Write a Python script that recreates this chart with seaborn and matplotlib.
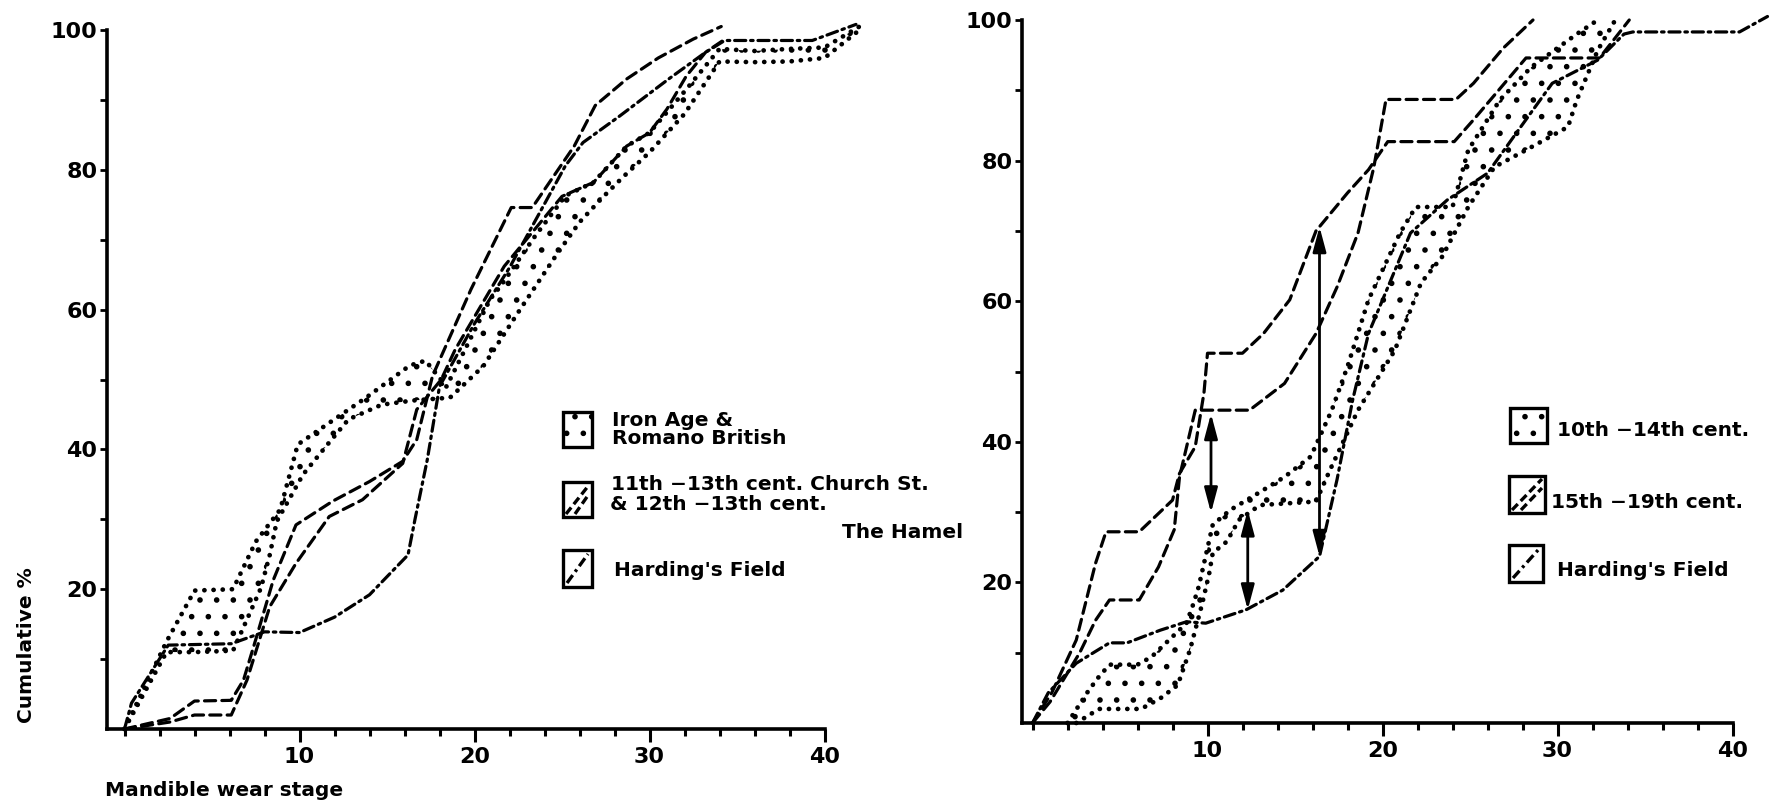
import numpy as np
import matplotlib
matplotlib.use("Agg")
import matplotlib.pyplot as plt
import seaborn as sns
from matplotlib.patches import Rectangle
from matplotlib.lines import Line2D
from matplotlib.ticker import FixedLocator

# ---------------- DATA ----------------
# Left panel: Iron Age & Romano British (dotted band)
L_iron_up_x = [0, 2.4, 4.0, 6.2, 7.5, 8.9, 9.9, 11.7, 13.8, 16.3, 17.2, 18.4, 20.9, 21.5, 23.4, 25.2, 26.8, 28.7, 30.0, 32.1, 34.0, 36.0, 38.0, 40.0, 42.0]
L_iron_up_y = [0, 12.5, 19.8, 20.0, 26.8, 31.4, 40.7, 43.8, 47.4, 52.0, 52.7, 49.0, 61.5, 63.4, 70.3, 76.3, 78.2, 83.4, 85.3, 91.5, 97.3, 97.0, 97.3, 97.5, 100.5]
L_iron_lo_x = [0, 2.4, 4.0, 6.2, 7.2, 7.8, 8.3, 8.7, 10.2, 11.6, 12.8, 14.7, 16.5, 18.6, 20.5, 22.6, 24.7, 26.0, 27.3, 28.5, 30.0, 32.0, 34.0, 36.0, 38.0, 40.0, 42.0]
L_iron_lo_y = [0, 11.0, 11.0, 11.2, 16.8, 20.2, 24.9, 29.7, 36.4, 40.7, 44.3, 46.4, 47.0, 47.4, 51.9, 60.0, 67.9, 72.5, 76.0, 79.0, 82.5, 88.0, 95.5, 95.4, 95.5, 96.0, 100.0]
# Left panel: 11th-13th cent. Church St. & 12th-13th cent. The Hamel (dashed pair)
L_med1_x = [0, 2.6, 4.0, 6.1, 6.8, 7.5, 8.5, 9.8, 11.9, 14.0, 15.9, 16.7, 17.6, 19.8, 22.1, 23.3, 25.7, 26.9, 28.7, 30.5, 32.5, 34.1]
L_med1_y = [0, 1.5, 4.0, 4.1, 7.0, 12.8, 21.3, 29.2, 32.6, 35.4, 38.3, 41.4, 50.5, 62.9, 74.6, 74.6, 83.4, 89.2, 93.0, 96.0, 98.7, 100.5]
L_med2_x = [0, 2.6, 4.0, 6.1, 7.0, 8.3, 9.8, 11.7, 13.6, 15.9, 16.7, 18.1, 18.9, 21.7, 25.0, 26.8, 28.7, 30.0, 31.0, 32.1, 33.2, 34.2]
L_med2_y = [0, 1.0, 2.0, 2.0, 7.0, 17.5, 23.7, 30.4, 32.8, 38.0, 45.7, 50.0, 54.3, 66.2, 76.2, 78.2, 83.4, 85.3, 88.7, 93.4, 96.8, 98.5]
# Left panel: Harding's Field (dash-dot)
L_hard_x = [0, 0.4, 2.5, 6.1, 8.0, 10.0, 12.0, 14.0, 16.2, 16.6, 17.3, 18.0, 20.0, 22.0, 25.2, 26.2, 28.3, 31.1, 33.2, 34.3, 39.3, 41.8]
L_hard_y = [0, 3.7, 12.0, 12.2, 13.9, 13.8, 16.0, 19.2, 24.9, 30.0, 38.5, 49.0, 58.0, 66.0, 80.6, 83.9, 87.7, 93.0, 96.8, 98.5, 98.5, 100.8]

# Right panel: 10th-14th cent. (dotted band)
R_early_up_x = [2.0, 3.2, 3.8, 4.4, 6.0, 6.8, 7.8, 8.8, 9.2, 9.5, 10.3, 11.3, 12.9, 14.4, 15.9, 17.1, 18.0, 19.2, 21.0, 21.9, 24.0, 24.9, 26.7, 28.5, 31.1, 32.3]
R_early_up_y = [0, 4.6, 6.6, 8.3, 8.3, 9.4, 11.8, 14.2, 17.0, 19.4, 28.2, 30.3, 32.7, 35.0, 37.9, 44.5, 50.7, 60.2, 69.7, 73.4, 73.4, 81.5, 88.6, 93.3, 98.0, 100]
R_early_lo_x = [2.5, 3.8, 6.2, 7.3, 8.3, 9.0, 9.7, 10.1, 10.3, 11.1, 11.8, 13.0, 16.2, 17.0, 18.6, 20.7, 22.2, 23.4, 24.9, 26.4, 28.2, 30.6, 31.1, 32.3, 33.3]
R_early_lo_y = [0, 2.0, 2.0, 3.5, 5.4, 10.4, 17.0, 21.3, 24.2, 25.8, 28.9, 31.0, 31.5, 36.0, 44.5, 53.0, 62.6, 66.3, 73.4, 79.1, 81.5, 84.8, 88.6, 95.7, 100]
# Right panel: 15th-19th cent. (dashed pair)
R_late1_x = [0, 1.1, 2.5, 3.6, 4.2, 6.1, 8.0, 8.4, 9.3, 9.8, 10.0, 12.0, 13.2, 14.7, 16.2, 18.0, 19.2, 20.3, 24.1, 25.2, 28.2, 32.4, 34.1]
R_late1_y = [0, 4.3, 11.8, 22.7, 27.2, 27.2, 31.7, 35.5, 39.3, 47.0, 52.6, 52.6, 55.4, 60.2, 70.0, 75.4, 78.7, 82.7, 82.7, 85.8, 94.6, 94.6, 100]
R_late2_x = [0, 1.0, 2.7, 3.6, 4.4, 6.1, 7.2, 8.1, 8.4, 9.3, 12.4, 14.4, 16.2, 17.4, 18.6, 19.5, 20.2, 24.2, 25.2, 26.9, 28.6]
R_late2_y = [0, 3.0, 10.0, 14.6, 17.5, 17.5, 22.2, 27.5, 35.0, 44.5, 44.5, 48.3, 55.4, 62.0, 69.7, 79.0, 88.7, 88.7, 91.0, 96.0, 100]
# Right panel: Harding's Field (dash-dot)
R_hard_x = [0, 0.9, 2.5, 4.4, 5.4, 7.3, 8.8, 9.9, 12.2, 14.3, 16.4, 17.4, 18.3, 19.2, 21.6, 23.7, 26.0, 27.9, 29.7, 32.3, 33.8, 34.3, 40.4, 42.0]
R_hard_y = [0, 4.3, 8.5, 11.4, 11.4, 13.2, 14.4, 14.2, 16.1, 18.9, 23.7, 34.6, 46.0, 55.4, 69.7, 74.4, 78.2, 84.8, 91.0, 94.3, 98.0, 98.3, 98.3, 100.5]
# Right panel: double-headed arrows (x, top, bottom)
arrow_x = [10.2, 12.3, 16.4]
arrow_top = [44.0, 30.3, 70.6]
arrow_bottom = [29.9, 16.1, 23.7]

# Ticks / labels
x_major = [10, 20, 30, 40]
x_minor = list(range(0, 41, 2))
y_major = [20, 40, 60, 80, 100]
y_minor = [10, 30, 50, 70, 90]
left_legend = ["Iron Age &", "Romano British", "11th \u221213th cent. Church St.",
               "& 12th \u221213th cent.", "The Hamel", "Harding's Field"]
right_legend = ["10th \u221214th cent.", "15th \u221219th cent.", "Harding's Field"]
ylabel_text = "Cumulative %"
xlabel_text = "Mandible wear stage"

# ---------------- STYLE ----------------
sns.set_style("ticks")
plt.rcParams['font.family'] = ['DejaVu Sans']
plt.rcParams['font.weight'] = 'bold'
plt.rcParams['hatch.linewidth'] = 1.6
plt.rcParams['lines.scale_dashes'] = False
for k in ('text.color', 'axes.labelcolor', 'xtick.color', 'ytick.color', 'axes.edgecolor'):
    plt.rcParams[k] = 'black'

DASH = (0, (8, 4.5))
DASHDOT = (0, (8, 3.5, 1.8, 3.5))
DOT = (0, (0.1, 6.5))
LW = 2.3

W, H = 1771, 808
fig = plt.figure(figsize=(W / 100, H / 100), dpi=100)
fig.patch.set_facecolor('white')


def fx(px):
    return px / W


def fy(py):
    return 1 - py / H


axL = fig.add_axes([fx(107), fy(729), (877 - 107) / W, (729 - 30) / H])
axR = fig.add_axes([fx(1022), fy(723), (1771 - 1022) / W, (723 - 20) / H])


def line(ax, x, y, ls, lw=LW):
    sns.lineplot(x=x, y=y, ax=ax, color='black', linewidth=lw, linestyle=ls,
                 sort=False, estimator=None, legend=False, clip_on=False,
                 dash_capstyle='round')


def band(ax, ux, uy, lx, ly):
    ax.fill(np.r_[ux, lx[::-1]], np.r_[uy, ly[::-1]], facecolor='none',
            edgecolor='black', hatch='.', linewidth=0, clip_on=False)
    line(ax, ux, uy, DOT, lw=3.4)
    line(ax, lx, ly, DOT, lw=3.4)


# Left panel
band(axL, L_iron_up_x, L_iron_up_y, L_iron_lo_x, L_iron_lo_y)
line(axL, L_med1_x, L_med1_y, DASH)
line(axL, L_med2_x, L_med2_y, DASH)
line(axL, L_hard_x, L_hard_y, DASHDOT)

# Right panel
band(axR, R_early_up_x, R_early_up_y, R_early_lo_x, R_early_lo_y)
line(axR, R_late1_x, R_late1_y, DASH)
line(axR, R_late2_x, R_late2_y, DASH)
line(axR, R_hard_x, R_hard_y, DASHDOT)
for xa, yt, yb in zip(arrow_x, arrow_top, arrow_bottom):
    axR.annotate('', xy=(xa, yt), xytext=(xa, yb),
                 arrowprops=dict(arrowstyle='<|-|>,head_length=0.75,head_width=0.2',
                                 mutation_scale=20, lw=2.0, color='black',
                                 shrinkA=0, shrinkB=0))

# Axes styling
for ax, xl in ((axL, (-1, 43)), (axR, (-0.6, 42.2))):
    ax.set_xlim(*xl)
    ax.set_ylim(0, 100)
    ax.set_facecolor('none')
    for s in ('top', 'right'):
        ax.spines[s].set_visible(False)
    for s in ('left', 'bottom'):
        ax.spines[s].set_linewidth(2.6)
        ax.spines[s].set_color('black')
    ax.spines['bottom'].set_bounds(xl[0], 40)
    ax.spines['left'].set_bounds(0, 100)
    ax.xaxis.set_major_locator(FixedLocator(x_major))
    ax.xaxis.set_minor_locator(FixedLocator(x_minor))
    ax.yaxis.set_major_locator(FixedLocator(y_major))
    ax.yaxis.set_minor_locator(FixedLocator(y_minor))
    ax.set_xticklabels([str(v) for v in x_major])
    ax.set_yticklabels([str(v) for v in y_major])
    ax.tick_params(axis='x', which='major', length=9, width=2.2, direction='out',
                   labelsize=16, pad=4, colors='black')
    ax.tick_params(axis='x', which='minor', length=5, width=2.2, direction='out',
                   colors='black')
    ax.tick_params(axis='y', which='both', length=5, width=2.0, direction='out',
                   labelsize=16, pad=2, colors='black')
    ax.set_xlabel('')
    ax.set_ylabel('')

fig.text(fx(27), fy(645), ylabel_text, rotation=90, ha='center', va='center', fontsize=14.5)
fig.text(fx(105), fy(791), xlabel_text, ha='left', va='center', fontsize=14.5)


# ---------------- LEGENDS (drawn manually, like the original) ----------------
def box(x0, y0, x1, y1, kind):
    r = Rectangle((fx(x0), fy(y1)), (x1 - x0) / W, (y1 - y0) / H, transform=fig.transFigure,
                  facecolor='none', edgecolor='black', linewidth=2.4,
                  hatch='.' if kind == 'dot' else None)
    fig.add_artist(r)
    if kind == 'dash':
        for off in (0, 9):
            fig.add_artist(Line2D([fx(x0 + 3 + off), fx(x1 - 3)],
                                  [fy(y1 - 3), fy(y0 + 3 + off)],
                                  transform=fig.transFigure, color='black',
                                  linewidth=2.4, linestyle=(0, (6, 3))))
    elif kind == 'dashdot':
        fig.add_artist(Line2D([fx(x0 + 4), fx(x1 - 4)], [fy(y1 - 4), fy(y0 + 4)],
                              transform=fig.transFigure, color='black',
                              linewidth=2.4, linestyle=(0, (7, 3, 2, 3))))


LFS = 14.5
box(563, 412, 592, 447, 'dot')
fig.text(fx(612), fy(420), left_legend[0], ha='left', va='center', fontsize=LFS)
fig.text(fx(612), fy(438), left_legend[1], ha='left', va='center', fontsize=LFS)
box(563, 482, 592, 517, 'dash')
fig.text(fx(611), fy(484), left_legend[2], ha='left', va='center', fontsize=LFS)
fig.text(fx(610), fy(504), left_legend[3], ha='left', va='center', fontsize=LFS)
fig.text(fx(963), fy(532), left_legend[4], ha='right', va='center', fontsize=LFS)
box(563, 550, 592, 587, 'dashdot')
fig.text(fx(614), fy(571), left_legend[5], ha='left', va='center', fontsize=LFS)

box(1510, 408, 1547, 443, 'dot')
fig.text(fx(1557), fy(431), right_legend[0], ha='left', va='center', fontsize=LFS)
box(1509, 476, 1545, 513, 'dash')
fig.text(fx(1551), fy(502), right_legend[1], ha='left', va='center', fontsize=LFS)
box(1509, 545, 1543, 582, 'dashdot')
fig.text(fx(1557), fy(570), right_legend[2], ha='left', va='center', fontsize=LFS)

fig.savefig('out.png', dpi=100, facecolor='white')
